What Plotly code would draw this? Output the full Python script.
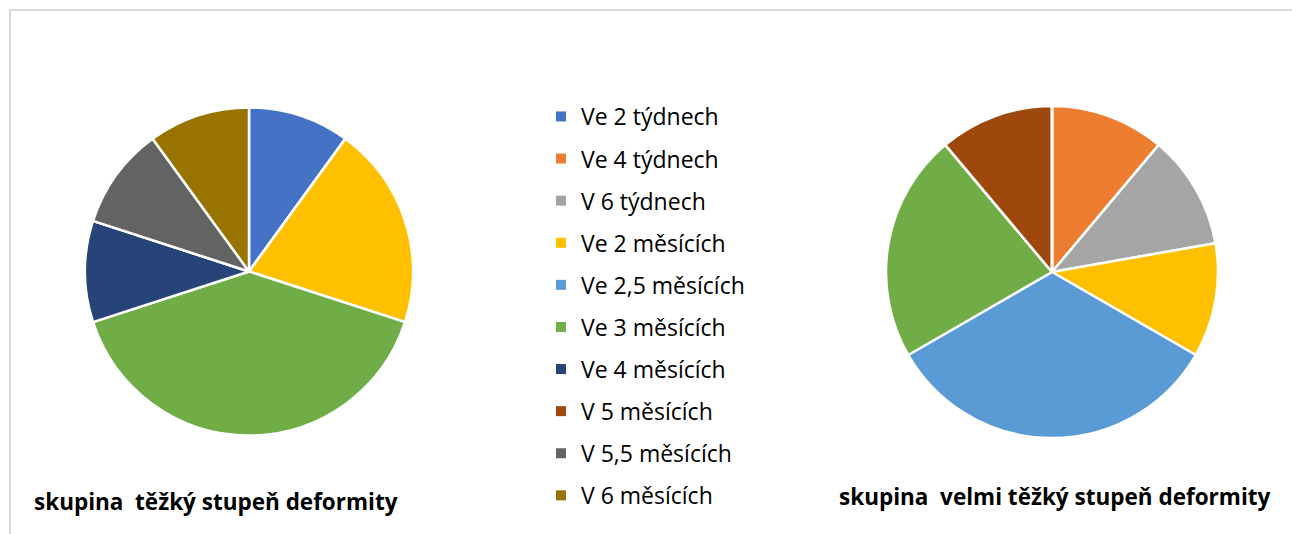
import plotly.graph_objects as go

labels = ["Ve 2 týdnech", "Ve 4 týdnech", "V 6 týdnech", "Ve 2 měsících",
          "Ve 2,5 měsících", "Ve 3 měsících", "Ve 4 měsících", "V 5 měsících",
          "V 5,5 měsících", "V 6 měsících"]
colors = ["#4472C4", "#ED7D31", "#A5A5A5", "#FFC000", "#5B9BD5",
          "#70AD47", "#264478", "#9E480E", "#636363", "#997300"]
values_tezky = [1, 0, 0, 2, 0, 4, 1, 0, 1, 1]
values_velmi = [0, 1, 1, 1, 3, 2, 0, 1, 0, 0]
title_tezky = "skupina  těžký stupeň deformity"
title_velmi = "skupina  velmi těžký stupeň deformity"

OFF = 8  # page body margin
W, H = 1300 - OFF, 534 - OFF
FONT = "Open Sans"

def px(x):
    return (x - OFF) / W

def py(y):
    return 1 - (y - OFF) / H

fig = go.Figure()

pie_common = dict(labels=labels, sort=False, direction="clockwise", rotation=0,
                  textinfo="none", showlegend=False,
                  marker=dict(colors=colors, line=dict(color="white", width=2.5)))

fig.add_trace(go.Pie(values=values_tezky, domain=dict(x=[px(249 - 164), px(249 + 164)],
                                                         y=[py(271 + 165), py(271 - 164)]),
                     **pie_common))
fig.add_trace(go.Pie(values=values_velmi, domain=dict(x=[px(1052 - 166), px(1052 + 166)],
                                                         y=[py(272 + 166), py(272 - 166)]),
                     **pie_common))

for lab, col in zip(labels, colors):
    fig.add_trace(go.Scatter(x=[None], y=[None], mode="markers", name=lab,
                             legendgroup=lab,
                             marker=dict(symbol="square", size=10, color=col)))

fig.update_layout(
    width=W, height=H,
    margin=dict(l=0, r=0, t=0, b=0),
    paper_bgcolor="white", plot_bgcolor="white",
    xaxis=dict(visible=False), yaxis=dict(visible=False),
    font=dict(family=FONT, color="black"),
    legend=dict(x=px(541), y=py(95), xanchor="left", yanchor="top",
                font=dict(size=23, family=FONT, color="#000000"),
                tracegroupgap=9.2, bgcolor="rgba(0,0,0,0)"),
    annotations=[
        dict(text="<b>" + title_tezky + "</b>", x=px(216), y=py(501), xref="paper", yref="paper",
             xanchor="center", yanchor="middle",
             showarrow=False, font=dict(size=22.5, family=FONT, color="black")),
        dict(text="<b>" + title_velmi + "</b>", x=px(1055), y=py(496), xref="paper", yref="paper",
             xanchor="center", yanchor="middle",
             showarrow=False, font=dict(size=22.5, family=FONT, color="black")),
    ],
    shapes=[dict(type="rect", xref="paper", yref="paper",
                 x0=px(10), x1=px(1294), y0=py(545), y1=py(10),
                 line=dict(color="#D9D9D9", width=2), fillcolor="rgba(0,0,0,0)")],
)

fig.write_html("out.html")
